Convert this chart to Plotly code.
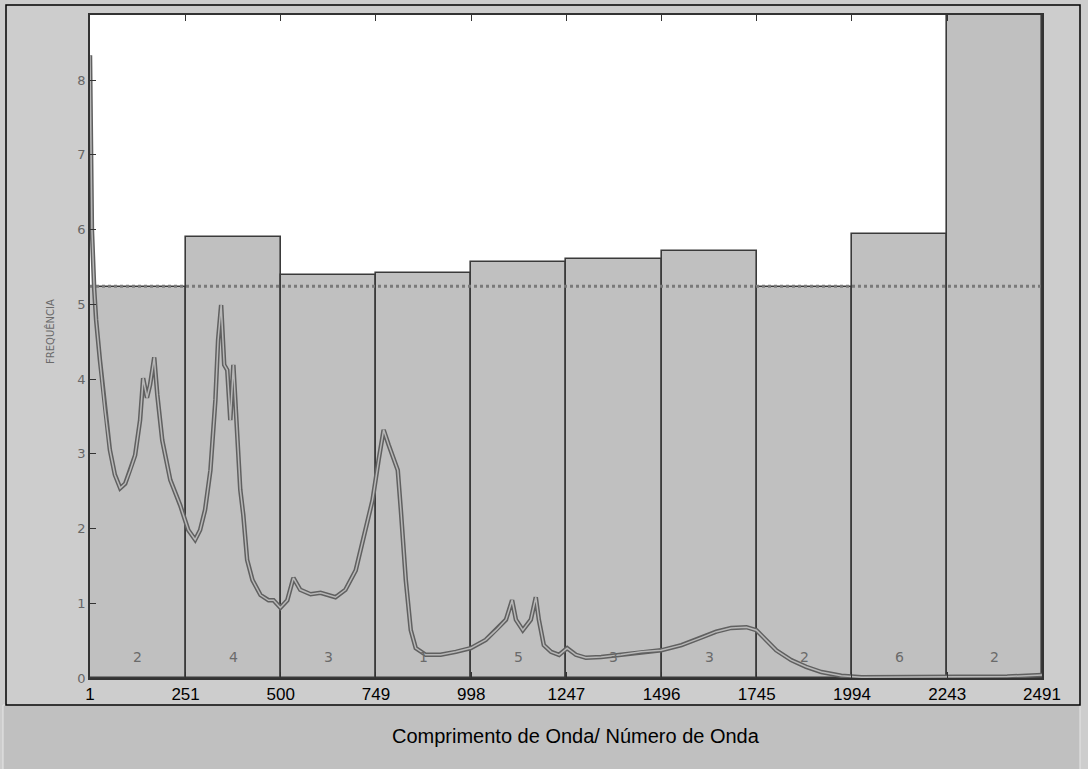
import plotly.graph_objects as go

# ---- data ----
bin_edges = [1, 251, 500, 749, 998, 1247, 1496, 1745, 1994, 2243, 2491]
bin_heights = [5.23, 5.90, 5.39, 5.42, 5.57, 5.60, 5.71, 5.23, 5.94, 9.50]
bin_counts = ["2", "4", "3", "1", "5", "3", "3", "2", "6", "2"]
mean_level = 5.24

spec_x = [1, 3, 6, 12, 17, 27, 40, 53, 66, 80, 93, 106, 119, 132, 140, 150, 158, 169, 177, 190,
          211, 237, 258, 276, 289, 302, 316, 329, 336, 344, 352, 360, 368, 376, 384, 394, 402, 412,
          426, 447, 468, 481, 499, 517, 533, 551, 578, 604, 643, 669, 696, 722, 740, 756, 769, 782,
          795, 806, 814, 827, 840, 853, 879, 918, 958, 997, 1036, 1063, 1089, 1105, 1115, 1133,
          1154, 1167, 1175, 1188, 1207, 1228, 1249, 1272, 1298, 1338, 1390, 1443, 1495, 1548, 1600,
          1639, 1678, 1718, 1744, 1770, 1796, 1835, 1874, 1914, 1966, 2019, 2100, 2200, 2300, 2400,
          2491]
spec_y = [8.33, 7.3, 6.0, 5.2, 4.79, 4.25, 3.59, 3.05, 2.72, 2.54, 2.6, 2.78, 2.98, 3.45, 4.01,
          3.75, 3.92, 4.29, 3.79, 3.18, 2.65, 2.31, 1.98, 1.85, 1.98, 2.25, 2.78, 3.72, 4.52, 4.99,
          4.19, 4.12, 3.45, 4.19, 3.45, 2.52, 2.18, 1.58, 1.31, 1.11, 1.04, 1.04, 0.94, 1.04, 1.34,
          1.18, 1.12, 1.14, 1.08, 1.18, 1.44, 1.98, 2.38, 2.92, 3.32, 3.12, 2.92, 2.78, 2.25, 1.31,
          0.64, 0.40, 0.31, 0.31, 0.35, 0.40, 0.51, 0.64, 0.78, 1.04, 0.78, 0.64, 0.78, 1.08, 0.78,
          0.44, 0.35, 0.31, 0.40, 0.31, 0.27, 0.28, 0.31, 0.35, 0.37, 0.44, 0.54, 0.62, 0.67, 0.68,
          0.64, 0.51, 0.37, 0.24, 0.15, 0.08, 0.03, 0.01, 0.01, 0.01, 0.02, 0.02, 0.04]

x_title = "Comprimento de Onda/ Número de Onda"
y_title = "FREQUÊNCIA"

# ---- derived ----
centers = [(a + b) / 2 for a, b in zip(bin_edges[:-1], bin_edges[1:])]
widths = [b - a for a, b in zip(bin_edges[:-1], bin_edges[1:])]

W, H = 1088, 769
L, R, T, B = 90, 46, 15, 91
pw, ph = W - L - R, H - T - B


def px(xp):
    return (xp - L) / pw


def py(yp):
    return (H - B - yp) / ph


fig = go.Figure()
fig.add_trace(go.Bar(
    x=centers, y=bin_heights, width=widths,
    marker=dict(color="#c0c0c0", line=dict(color="#3a3a3a", width=1.6)),
    hoverinfo="skip", showlegend=False,
))
fig.add_trace(go.Scatter(
    x=[bin_edges[0], bin_edges[-1]], y=[mean_level, mean_level], mode="lines",
    line=dict(color="#7a7a7a", width=3, dash="dot"), showlegend=False,
))
fig.add_trace(go.Scatter(
    x=spec_x, y=spec_y, mode="lines",
    line=dict(color="#606060", width=4.5), showlegend=False,
))
fig.add_trace(go.Scatter(
    x=spec_x, y=spec_y, mode="lines",
    line=dict(color="#b8b8b8", width=1.5), showlegend=False,
))

for c, t in zip(centers, bin_counts):
    fig.add_annotation(x=c, y=0.28, text=t, showarrow=False,
                       font=dict(family="DejaVu Sans", size=14, color="#6a6a6a"))

sans = "Liberation Sans, Arial"

fig.add_annotation(xref="paper", yref="paper", x=px(576), y=py(736), text=x_title,
                   xanchor="center", yanchor="middle",
                   showarrow=False, font=dict(family=sans, size=20, color="#000000"))
fig.add_annotation(xref="paper", yref="paper", x=px(50), y=py(332), text=y_title,
                   xanchor="center", yanchor="middle",
                   textangle=-90, showarrow=False,
                   font=dict(family="DejaVu Sans", size=10, color="#6a6a6a"))

# frame and bottom band
fig.add_shape(type="rect", xref="paper", yref="paper", layer="below",
              x0=px(3), x1=px(1080), y0=py(705), y1=py(770),
              fillcolor="#c0c0c0", line=dict(color="#e6e6e6", width=1))
fig.add_shape(type="rect", xref="paper", yref="paper", layer="below",
              x0=px(6), x1=px(1080), y0=py(705), y1=py(5),
              fillcolor="rgba(0,0,0,0)", line=dict(color="#000000", width=1.5))

fig.update_layout(
    width=W, height=H,
    margin=dict(l=L, r=R, t=T, b=B),
    paper_bgcolor="#cdcdcd", plot_bgcolor="#ffffff",
    bargap=0, showlegend=False,
    xaxis=dict(range=[bin_edges[0], bin_edges[-1]], tickmode="array",
               tickvals=bin_edges, ticktext=[str(v) for v in bin_edges],
               ticks="inside", ticklen=6, tickcolor="#333333",
               showline=True, linecolor="#333333", linewidth=1.5, mirror="ticks",
               showgrid=False, zeroline=False,
               tickfont=dict(family=sans, size=17, color="#000000")),
    yaxis=dict(range=[0, 8.87], tickmode="array", tickvals=list(range(0, 9)),
               ticks="inside", ticklen=6, tickcolor="#333333",
               showline=True, linecolor="#333333", linewidth=1.5, mirror=True,
               showgrid=False, zeroline=False,
               tickfont=dict(family="DejaVu Sans", size=13, color="#666666")),
)

fig.write_html("out.html")
